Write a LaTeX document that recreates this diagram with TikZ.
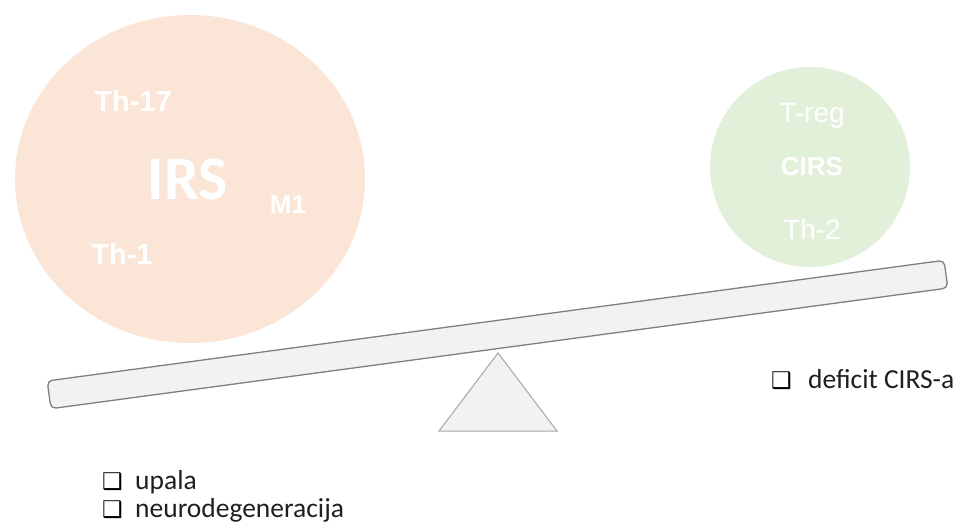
\documentclass[tikz,border=0pt]{standalone}
\usepackage{fontspec}
\setmainfont{Carlito}
\newfontfamily\arialf{Liberation Sans}
\newfontfamily\dejavuf{DejaVu Sans}
\definecolor{peach}{HTML}{FBE5D6}
\definecolor{lgreen}{HTML}{E2F0D9}
\definecolor{plankfill}{HTML}{F2F2F2}
\definecolor{plankline}{HTML}{7F7F7F}
\definecolor{triline}{HTML}{A6A6A6}
\begin{document}
\begin{tikzpicture}[x=1pt,y=-1pt,
  lbl/.style={text=white,inner sep=0pt},
  lblb/.style={lbl,font=\arialf\bfseries\fontsize{29}{32}\selectfont},
  lblr/.style={lbl,font=\arialf\fontsize{28}{32}\selectfont},
  item/.style={anchor=base west,inner sep=0pt,text=black!88,font=\fontsize{27.5}{30}\selectfont},
  chk/.style={anchor=base west,inner sep=0pt,text=black,font=\dejavuf\fontsize{23}{25}\selectfont}]
\useasboundingbox (0,0) rectangle (955,527);
% circles
\fill[peach] (190,179) ellipse [x radius=175pt, y radius=164pt];
\fill[lgreen] (810,167) circle [radius=100pt];
% left circle labels
\node[lblb] (th17) at (133,101) {Th-17};
\node[lbl,font=\bfseries\fontsize{62}{66}\selectfont] (irs) at (188,179) {IRS};
\node[lblb,font=\arialf\bfseries\fontsize{26}{30}\selectfont] (m1) at (288,205) {M1};
\node[lblb] (th1) at (122,254) {Th-1};
% right circle labels
\node[lblr] (treg) at (812,116) {T-reg};
\node[lbl,font=\arialf\bfseries\fontsize{26}{30}\selectfont] (cirs) at (812,167) {CIRS};
\node[lblr] (th2) at (812,229) {Th-2};
% plank
\node[draw=plankline,fill=plankfill,line width=1.3pt,rounded corners=5pt,
  minimum width=905pt,minimum height=28pt,rotate=7.66,inner sep=0pt] (plank) at (497.5,334.5) {};
% fulcrum
\coordinate (apex) at (498,353);
\coordinate (bl) at (439,431);
\coordinate (br) at (557,431);
\draw[fill=plankfill,draw=triline,line width=1pt] (apex) -- (bl) -- (br) -- cycle;
% texts
\node[chk] (c1) at (771,388) {❑};
\node[item] (t1) at (808,388) {deficit CIRS-a};
\node[chk] (c2) at (102,489) {❑};
\node[item] (t2) at (135,489) {upala};
\node[chk] (c3) at (102,517) {❑};
\node[item] (t3) at (135,517) {neurodegeneracija};
\end{tikzpicture}
\end{document}
